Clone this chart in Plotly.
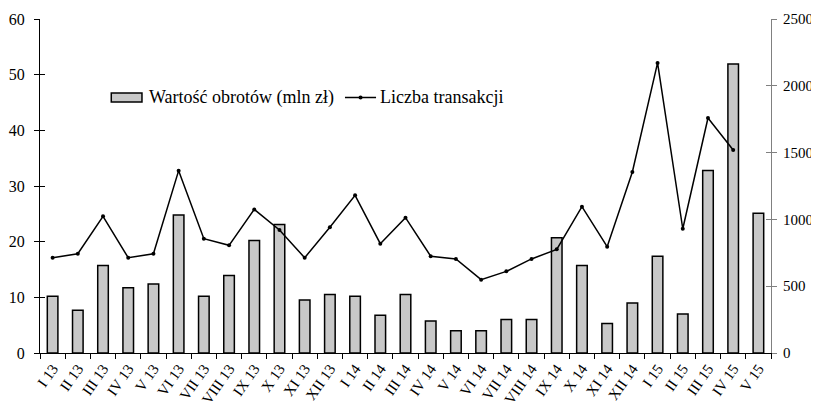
import plotly.graph_objects as go

categories = ["I 13", "II 13", "III 13", "IV 13", "V 13", "VI 13", "VII 13", "VIII 13",
              "IX 13", "X 13", "XI 13", "XII 13", "I 14", "II 14", "III 14", "IV 14",
              "V 14", "VI 14", "VII 14", "VIII 14", "IX 14", "X 14", "XI 14", "XII 14",
              "I 15", "II 15", "III 15", "IV 15", "V 15"]

turnover = [10.2, 7.7, 15.7, 11.7, 12.4, 24.8, 10.2, 13.9, 20.2, 23.1, 9.5, 10.5, 10.2,
            6.8, 10.5, 5.75, 4.0, 4.0, 6.0, 6.0, 20.7, 15.7, 5.3, 9.0, 17.4, 7.0, 32.8,
            51.9, 25.1]

transactions = [713, 743, 1023, 713, 743, 1365, 856, 806, 1075, 921, 713, 941, 1180,
                818, 1013, 724, 704, 549, 611, 704, 776, 1095, 796, 1355, 2171, 930,
                1759, 1519, None]

left_ticks = [0, 10, 20, 30, 40, 50, 60]
right_ticks = [0, 500, 1000, 1500, 2000, 2500]

bar_name = "Wartość obrotów (mln zł)"
line_name = "Liczba transakcji"

FONT = "Liberation Serif"
BAR_FILL = "#c8c8c8"

fig = go.Figure()
fig.add_trace(go.Bar(
    x=categories, y=turnover, name=bar_name,
    marker=dict(color=BAR_FILL, line=dict(color="black", width=1.5)),
    yaxis="y", showlegend=False))
fig.add_trace(go.Scatter(
    x=categories, y=transactions, name=line_name,
    mode="lines+markers", line=dict(color="black", width=1.5),
    marker=dict(color="black", size=4), yaxis="y2", connectgaps=False,
    showlegend=False))

# legend drawn by hand (wide box symbol like the reference)
LEG_Y = 0.765
shapes = [
    dict(type="rect", xref="paper", yref="paper", x0=0.0975, x1=0.1395,
         y0=LEG_Y - 0.0135, y1=LEG_Y + 0.0135,
         fillcolor=BAR_FILL, line=dict(color="black", width=1.5)),
    dict(type="line", xref="paper", yref="paper", x0=0.4172, x1=0.4597,
         y0=LEG_Y, y1=LEG_Y, line=dict(color="black", width=1.5)),
    dict(type="circle", xref="paper", yref="paper", xsizemode="pixel",
         ysizemode="pixel", xanchor=0.4385, yanchor=LEG_Y, x0=-2, x1=2, y0=-2, y1=2,
         fillcolor="black", line=dict(color="black", width=0)),
]
annotations = [
    dict(xref="paper", yref="paper", x=0.1465, y=LEG_Y, text=bar_name,
         showarrow=False, xanchor="left", yanchor="middle",
         font=dict(family=FONT, size=18, color="black")),
    dict(xref="paper", yref="paper", x=0.4625, y=LEG_Y, text=line_name,
         showarrow=False, xanchor="left", yanchor="middle",
         font=dict(family=FONT, size=18, color="black")),
]

# page body has an 8px margin on every side: figure sized to fit the window
fig.update_layout(
    width=803, height=395,
    margin=dict(l=32, r=40, t=11, b=50, autoexpand=False),
    plot_bgcolor="white", paper_bgcolor="white",
    font=dict(family=FONT, size=16, color="black"),
    bargap=0.58,
    showlegend=False,
    shapes=shapes, annotations=annotations,
    xaxis=dict(type="category", showline=True, linecolor="black", linewidth=1,
               ticks="outside", tickson="boundaries", ticklen=5, tickcolor="black",
               tickangle=-55, tickfont=dict(size=15, family=FONT), showgrid=False,
               range=[-0.5, 28.5], automargin=False),
    yaxis=dict(range=[0, 60], tickvals=left_ticks, showline=True, linecolor="black",
               linewidth=1, ticks="outside", ticklen=5, tickcolor="black",
               showgrid=False, zeroline=False, tickfont=dict(size=16, family=FONT),
               ticklabelstandoff=6, automargin=False),
    yaxis2=dict(range=[0, 2500], tickvals=right_ticks, overlaying="y", side="right",
                showline=True, linecolor="#808080", linewidth=1, ticks="outside",
                ticklen=5, tickcolor="#808080", showgrid=False, zeroline=False,
                tickfont=dict(size=15, family=FONT), ticklabelstandoff=3,
                automargin=False),
    yaxis3=dict(range=[0, 60], tickvals=left_ticks, overlaying="y", side="left",
                showline=False, ticks="inside", ticklen=5, tickcolor="black",
                showticklabels=False, showgrid=False, zeroline=False, automargin=False),
    yaxis4=dict(range=[0, 2500], tickvals=right_ticks, overlaying="y", side="right",
                showline=False, ticks="inside", ticklen=5, tickcolor="#808080",
                showticklabels=False, showgrid=False, zeroline=False, automargin=False),
)
# invisible helper traces that activate the tick-crossing axes
fig.add_trace(go.Scatter(x=[categories[0]], y=[0], yaxis="y3", showlegend=False,
                         mode="markers", marker=dict(opacity=0), hoverinfo="skip"))
fig.add_trace(go.Scatter(x=[categories[0]], y=[0], yaxis="y4", showlegend=False,
                         mode="markers", marker=dict(opacity=0), hoverinfo="skip"))

fig.write_html("out.html")
